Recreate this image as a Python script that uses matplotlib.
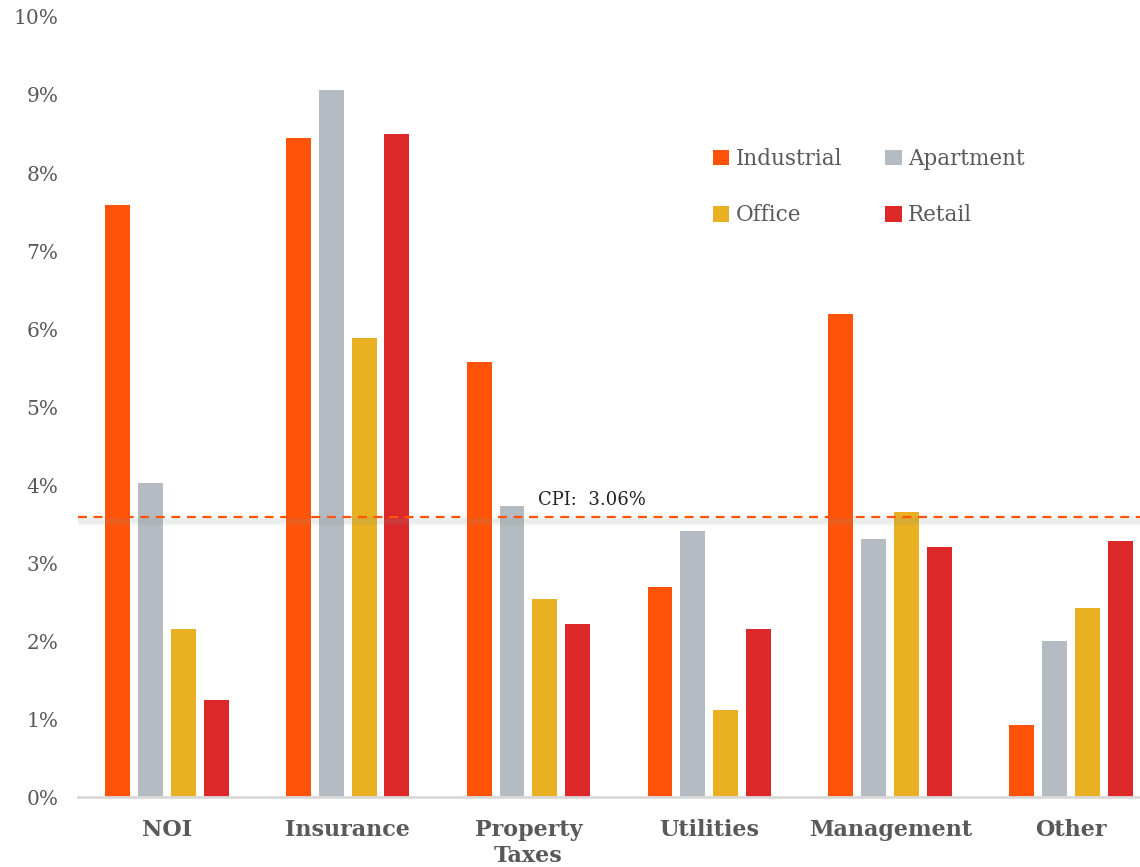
import matplotlib
matplotlib.use("Agg")
import matplotlib.pyplot as plt
import numpy as np

categories = ["NOI", "Insurance", "Property\nTaxes", "Utilities", "Management", "Other"]
series_names = ["Industrial", "Apartment", "Office", "Retail"]
industrial = [7.59, 8.45, 5.58, 2.69, 6.19, 0.92]
apartment = [4.03, 9.06, 3.73, 3.41, 3.31, 2.00]
office = [2.15, 5.88, 2.54, 1.12, 3.65, 2.42]
retail = [1.24, 8.50, 2.22, 2.15, 3.21, 3.28]
cpi_level = 3.59
cpi_label = "CPI:  3.06%"
yticks = list(range(0, 11))
ytick_labels = [f"{v}%" for v in yticks]

colors = ["#FF5309", "#B5BBC3", "#E8B022", "#DC2828"]
values = [industrial, apartment, office, retail]

fig = plt.figure(figsize=(11.4, 8.67), dpi=100)
ax = fig.add_axes([0.0684, 0.0807, 0.9316, 0.8997])
plt.rcParams['font.family'] = ['DejaVu Serif']

x = np.arange(len(categories))
width = 0.138
offsets = [-1.5, -0.5, 0.5, 1.5]
step = 0.182
handles = []
for vals, col, name, off in zip(values, colors, series_names, offsets):
    h = ax.bar(x + off * step, vals, width=width, color=col, label=name, zorder=2)
    handles.append(h)

ax.set_xlim(-0.49, 5.38)
ax.set_ylim(0, 10)
ax.set_yticks(yticks)
ax.set_yticklabels(ytick_labels, fontsize=14.5, color="#595959", family="DejaVu Serif")
ax.set_xticks(x)
ax.set_xticklabels(categories, fontsize=16, color="#595959", fontweight="bold",
                   family="DejaVu Serif", linespacing=1.2)
ax.tick_params(axis="both", length=0)
ax.tick_params(axis="x", pad=16)
ax.tick_params(axis="y", pad=14)
for s in ["top", "right", "left"]:
    ax.spines[s].set_visible(False)
ax.spines["bottom"].set_color("#D9D9D9")
ax.spines["bottom"].set_linewidth(2)
ax.spines["bottom"].set_zorder(3)

# soft shadow under CPI line
for lw, a in [(7, 0.05), (5, 0.06), (3, 0.08)]:
    ax.axhline(cpi_level - 0.045, color="#8c9a8c", linewidth=lw, alpha=a, zorder=3)
ax.axhline(cpi_level, color="#FF5309", linestyle=(0, (4, 3)), linewidth=1.6, zorder=4)
ax.text(2.05, cpi_level + 0.1, cpi_label, fontsize=13, color="#222222", family="DejaVu Serif",
        ha="left", va="bottom")

order = [0, 2, 1, 3]
leg = ax.legend([handles[i] for i in order], [series_names[i] for i in order],
                loc="upper left", bbox_to_anchor=(0.58, 0.857), ncol=2, frameon=False,
                fontsize=15.5, handlelength=0.75, handleheight=0.75, handletextpad=0.3,
                columnspacing=2.0, labelspacing=1.6)
for t in leg.get_texts():
    t.set_color("#595959")

fig.savefig("out.png", dpi=100)
